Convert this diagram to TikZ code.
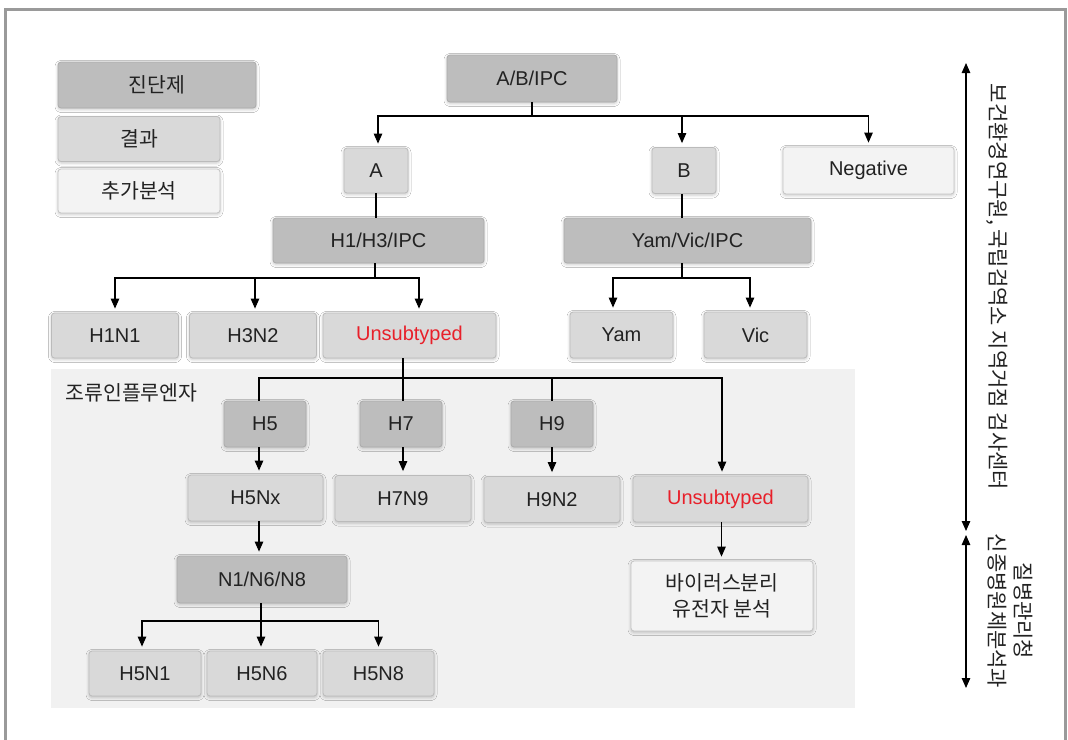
\documentclass[tikz,border=0pt]{standalone}
\usepackage{fontspec}
\setmainfont{Liberation Sans}
\newfontfamily\kr{Noto Sans CJK KR}
\usetikzlibrary{arrows.meta,shadows.blur,calc}
\definecolor{darkbox}{HTML}{BDBDBD}
\definecolor{darkline}{HTML}{ABABAB}
\definecolor{midbox}{HTML}{D9D9D9}
\definecolor{midline}{HTML}{BBBBBB}
\definecolor{lightbox}{HTML}{F3F3F3}
\definecolor{lightline}{HTML}{C4C4C4}
\definecolor{regionbg}{HTML}{F1F1F1}
\definecolor{framegray}{HTML}{9A9A9A}
\definecolor{redtxt}{HTML}{E8202A}
\definecolor{txt}{HTML}{222222}
\tikzset{
  box/.style={rectangle, rounded corners=3pt, line width=0.8pt, inner sep=0pt,
    text=txt, font=\fontsize{20}{23}\selectfont,
    blur shadow={shadow xshift=0pt, shadow yshift=-1.5pt, shadow blur radius=3pt, shadow opacity=22}},
  darkb/.style={box, fill=darkbox, draw=darkline},
  midb/.style={box, fill=midbox, draw=midline},
  lightb/.style={box, fill=lightbox, draw=lightline},
  sz/.style 2 args={minimum width=#1pt, minimum height=#2pt},
  conn/.style={line width=1.1pt, draw=black},
  arr/.style={conn, -{Triangle[length=10pt,width=8.5pt]}, shorten >=4pt},
  dblarr/.style={conn, {Triangle[length=10pt,width=8.5pt]}-{Triangle[length=10pt,width=8.5pt]}},
  krf/.style={font=\kr\fontsize{20.5}{26}\selectfont, text=txt},
  sidef/.style={font=\kr\fontsize{21}{26}\selectfont, text=txt},
}
\begin{document}
\begin{tikzpicture}[x=1pt,y=-1pt]
\useasboundingbox (0,0) rectangle (1068,739);
\fill[white] (0,0) rectangle (1068,739);
\draw[line width=3pt, framegray] (5.5,9.5) rectangle (1065,780);
% grey region
\fill[regionbg] (51,369) rectangle (855,708);
\node[krf, anchor=west] (avian) at (62,393) {조류인플루엔자};

% legend
\node[darkb, sz={198}{46}, krf] (leg1) at (157,85) {진단제};
\node[midb, sz={162}{45}, krf] (leg2) at (139,139) {결과};
\node[lightb, sz={162}{44}, krf] (leg3) at (139,191) {추가분석};

% top level
\node[darkb, sz={170}{47}] (abipc) at (532,78.5) {A/B/IPC};
\node[midb, sz={64}{45}] (A) at (376,170.5) {A};
\node[midb, sz={64}{46}] (B) at (684,170.5) {B};
\node[lightb, sz={171}{47}] (neg) at (868.5,170.5) {Negative};

\node[darkb, sz={211}{45}] (h1h3) at (378.5,240.5) {H1/H3/IPC};
\node[darkb, sz={247}{45}] (yvi) at (687.5,240.5) {Yam/Vic/IPC};

\node[midb, sz={127}{45}] (h1n1) at (115,335.5) {H1N1};
\node[midb, sz={127}{45}] (h3n2) at (253,335.5) {H3N2};
\node[midb, sz={173}{45}, text=redtxt] (uns1) at (409.5,335.5) {Unsubtyped};
\node[midb, sz={103}{46}] (yam) at (621.5,335) {Yam};
\node[midb, sz={103}{46}] (vic) at (755.5,335) {Vic};

% avian
\node[darkb, sz={82}{46}] (h5) at (265,424) {H5};
\node[darkb, sz={82}{46}] (h7) at (401,424) {H7};
\node[darkb, sz={82}{46}] (h9) at (552,424) {H9};

\node[midb, sz={135}{46}] (h5nx) at (255.5,498) {H5Nx};
\node[midb, sz={136}{46}] (h7n9) at (403,498.5) {H7N9};
\node[midb, sz={136}{46}] (h9n2) at (552,499.5) {H9N2};
\node[midb, sz={175}{46}, text=redtxt] (uns2) at (720.5,499) {Unsubtyped};
\node[lightb, sz={182}{70}, krf, align=center] (virus) at (722,596) {바이러스분리\\유전자 분석};

\node[darkb, sz={170}{47}] (n1n6n8) at (262,579.5) {N1/N6/N8};
\node[midb, sz={112}{45}] (h5n1) at (145,673.5) {H5N1};
\node[midb, sz={110}{45}] (h5n6) at (262,673.5) {H5N6};
\node[midb, sz={111}{45}] (h5n8) at (378.5,673.5) {H5N8};

% connectors: top
\coordinate (j1) at (532,116);
\draw[conn] (abipc.south) -- (j1);
\draw[arr] (j1) -| ([xshift=2pt]A.north);
\draw[arr] (j1) -| ([xshift=-2pt]B.north);
\draw[arr] (j1) -| (neg.north);

\draw[conn] (A.south) -- (A.south |- h1h3.north);
\draw[conn] ([xshift=-2pt]B.south) -- ([xshift=-2pt]B.south |- yvi.north);

\coordinate (j2) at (375,278);
\draw[conn] (h1h3.south -| j2) -- (j2);
\draw[arr] (j2) -| (h1n1.north);
\draw[arr] (j2) -| ([xshift=2pt]h3n2.north);
\draw[arr] (j2) -| ([xshift=9.5pt]uns1.north);

\coordinate (j3) at (682,278);
\draw[conn] (yvi.south -| j3) -- (j3);
\draw[arr] (j3) -| ([xshift=-8.5pt]yam.north);
\draw[arr] (j3) -| ([xshift=-5.5pt]vic.north);

% avian connectors
\coordinate (j4) at (403,378);
\draw[conn] (uns1.south -| j4) -- (h7.north -| j4);
\draw[conn] ([xshift=-6pt]h5.north) |- (j4);
\draw[arr] (j4) -| ([xshift=1.5pt]uns2.north);
\draw[conn] (j4 -| h9.north) -- (h9.north);

\draw[arr] ([xshift=-6pt]h5.south) -- ([xshift=-6pt]h5.south |- h5nx.north);
\draw[arr] (h7.south -| j4) -- (h7n9.north -| j4);
\draw[arr] (h9.south) -- (h9n2.north);
\draw[arr] ([xshift=1pt]uns2.south) -- ([xshift=1pt]uns2.south |- virus.north);
\draw[arr] ([xshift=3.5pt]h5nx.south) -- ([xshift=3.5pt]h5nx.south |- n1n6n8.north);

\coordinate (j5) at (261,621);
\draw[conn] (n1n6n8.south -| j5) -- (j5);
\draw[arr] (j5) -| ([xshift=-3pt]h5n1.north);
\draw[arr] (j5) -- (j5 |- h5n6.north);
\draw[arr] (j5) -| (h5n8.north);

% right side scale
\coordinate (r1) at (966,63);
\coordinate (r2) at (966,531);
\coordinate (r3) at (966,535);
\coordinate (r4) at (966,688);
\draw[dblarr] (r1) -- (r2);
\draw[dblarr] (r3) -- (r4);
\node[sidef, rotate=-90] (lab1) at (997,287) {보건환경연구원, 국립검역소 지역거점 검사센터};
\node[sidef, rotate=-90, align=center] (lab2) at (1010,611) {질병관리청\\신종병원체분석과};
\end{tikzpicture}
\end{document}
